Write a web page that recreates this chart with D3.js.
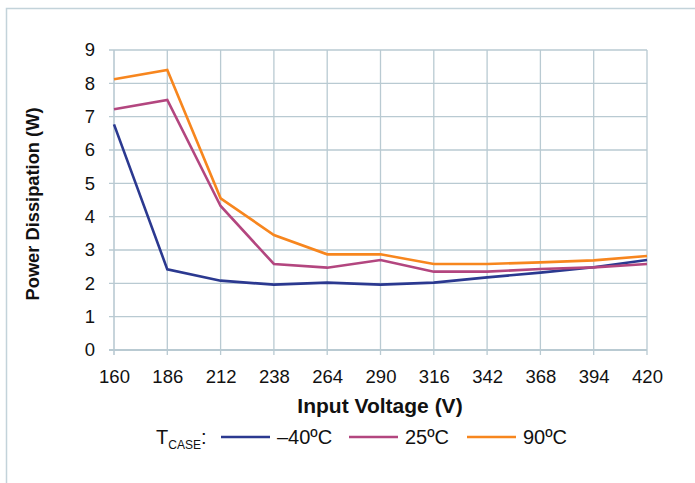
<!DOCTYPE html>
<html><head><meta charset="utf-8">
<script src="https://cdn.jsdelivr.net/npm/d3@7"></script>
<style>
body{margin:0;background:#fff;}
svg{display:block;font-family:"Liberation Sans",Arial,sans-serif;}
</style></head><body>
<svg id="c" width="695" height="483"></svg>
<script>
const categories = [160,186,212,238,264,290,316,342,368,394,420];
const seriesNames = ["\u201340\u00baC","25\u00baC","90\u00baC"];
const valuesM40 = [6.77,2.42,2.08,1.96,2.02,1.96,2.02,2.18,2.32,2.48,2.70];
const values25  = [7.22,7.50,4.32,2.58,2.47,2.70,2.35,2.35,2.43,2.48,2.58];
const values90  = [8.12,8.40,4.55,3.45,2.87,2.87,2.58,2.58,2.63,2.69,2.82];
const yTicks = [0,1,2,3,4,5,6,7,8,9];
const colors = ["#2b3990","#b3467f","#f7861e"];

const svg = d3.select("#c");
const L=114, R=647, T=50, B=350;
const gridColor="#b9cad2";
const FF="Liberation Sans, Arial, sans-serif";

// frame
svg.append("path").attr("d","M6.5,483 V8.5 H695").attr("fill","none").attr("stroke","#c3d3da").attr("stroke-width",1.5);

const x = d3.scalePoint().domain(categories).range([L,R]);
const y = d3.scaleLinear().domain([0,9]).range([B,T]);

// grid
const g = svg.append("g");
g.selectAll(".hg").data(yTicks).join("line")
 .attr("x1",L-5).attr("x2",R).attr("y1",d=>y(d)).attr("y2",d=>y(d))
 .attr("stroke",gridColor).attr("stroke-width",d=>d===0?2:1.3);
g.selectAll(".vg").data(categories).join("line")
 .attr("x1",d=>x(d)).attr("x2",d=>x(d)).attr("y1",T).attr("y2",B+5)
 .attr("stroke",gridColor).attr("stroke-width",d=>d===160?1.6:1.3);

// axes labels
const yAxis = d3.axisLeft(y).tickValues(yTicks).tickSize(0).tickPadding(19);
const ya = svg.append("g").attr("transform",`translate(${L},0)`).call(yAxis);
ya.select(".domain").remove();
ya.selectAll("text").attr("font-size",18.5).attr("fill","#111").attr("font-family",FF);

const xAxis = d3.axisBottom(x).tickSize(0).tickPadding(20);
const xa = svg.append("g").attr("transform",`translate(0,${B})`).call(xAxis);
xa.select(".domain").remove();
xa.selectAll("text").attr("font-size",18.5).attr("fill","#111").attr("font-family",FF);

// lines
const line = d3.line().x((d,i)=>x(categories[i])).y(d=>y(d));
[valuesM40,values25,values90].forEach((vals,k)=>{
  svg.append("path").datum(vals).attr("d",line).attr("fill","none")
   .attr("stroke",colors[k]).attr("stroke-width",2.6).attr("stroke-linejoin","miter");
});

// titles
svg.append("text").attr("x",380).attr("y",413).attr("text-anchor","middle")
 .attr("font-size",21).attr("font-weight","bold").attr("fill","#111").text("Input Voltage (V)");
svg.append("text").attr("transform","translate(39,204) rotate(-90)").attr("text-anchor","middle")
 .attr("font-size",18.3).attr("font-weight","bold").attr("fill","#111").text("Power Dissipation (W)");

// legend
const lg = svg.append("g");
const lt = lg.append("text").attr("x",156).attr("y",444).attr("font-size",20).attr("fill","#111");
lt.append("tspan").text("T");
lt.append("tspan").attr("font-size",12).attr("dy",5).text("CASE");
lt.append("tspan").attr("dy",-5).text(":");
const legX = [221,349,467];
seriesNames.forEach((n,k)=>{
  lg.append("line").attr("x1",legX[k]).attr("x2",legX[k]+49).attr("y1",437).attr("y2",437)
   .attr("stroke",colors[k]).attr("stroke-width",2.6);
  lg.append("text").attr("x",legX[k]+56).attr("y",444).attr("font-size",20).attr("fill","#111").text(n);
});
</script>
</body></html>
